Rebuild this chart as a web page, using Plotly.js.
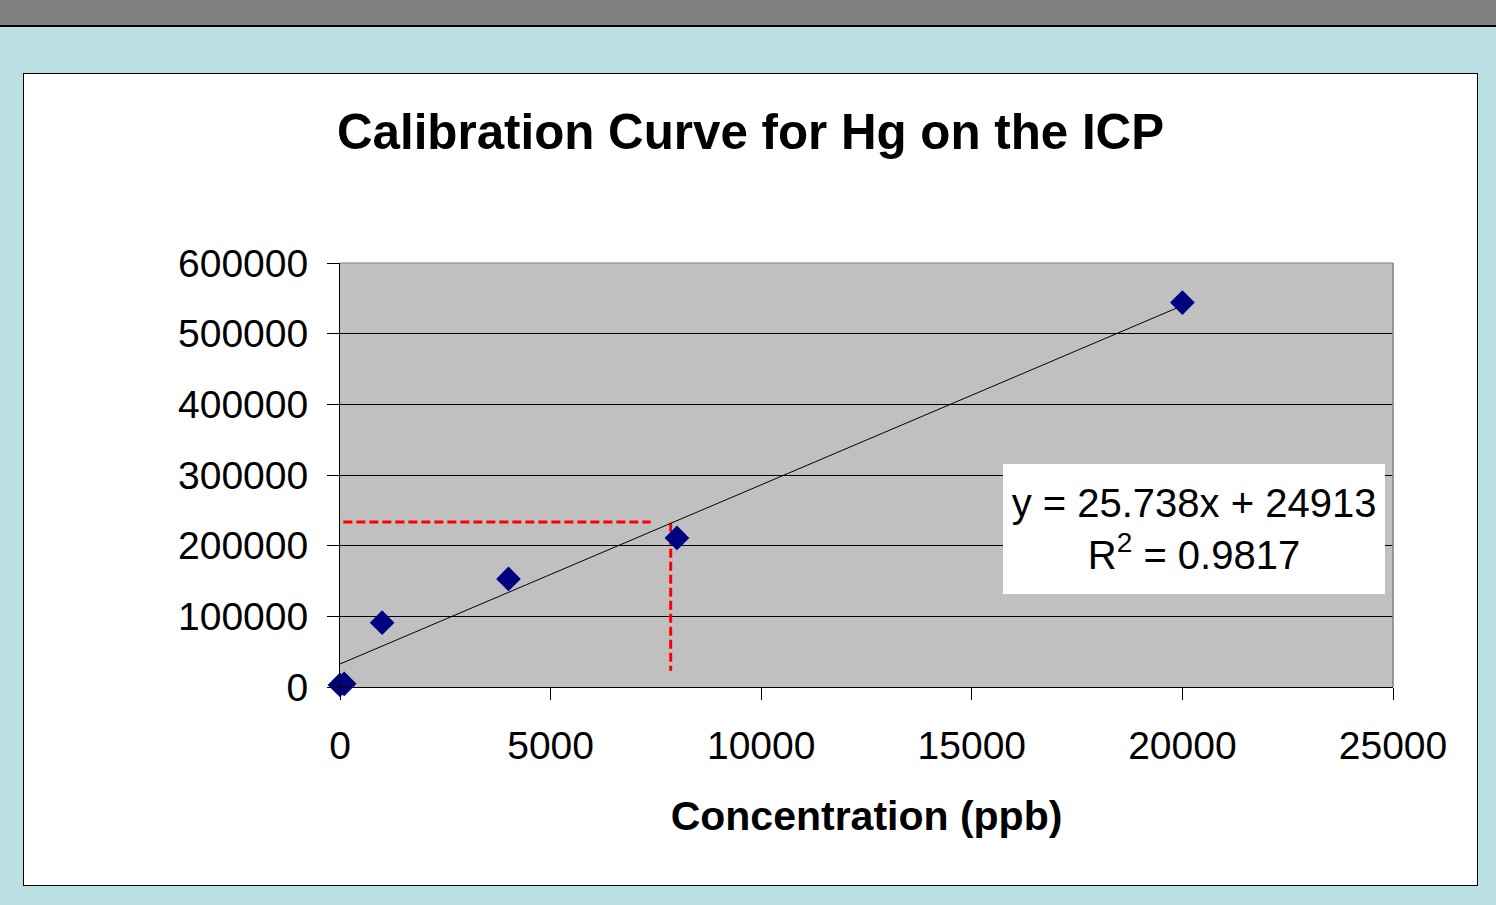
<!DOCTYPE html>
<html>
<head>
<meta charset="utf-8">
<script src="https://cdn.plot.ly/plotly-3.0.1.min.js"></script>
<style>
  html, body { margin:0; padding:0; width:1496px; height:905px; overflow:hidden; background:#BAE0E3; }
  #topband { position:absolute; left:0; top:0; width:1496px; height:25px; background:#808080; border-bottom:2px solid #000; }
  #box { position:absolute; left:23px; top:73px; width:1453px; height:811px; border:1px solid #000; background:#fff; }
  #chart { width:1453px; height:811px; }
</style>
</head>
<body>
<div id="topband"></div>
<div id="box"><div id="chart"></div></div>
<script>
// Calibration standards
const concentration = [0, 100, 1000, 4000, 8000, 20000];
const intensity     = [3000, 4500, 91000, 153000, 211000, 544000];

// Linear trendline as drawn
const trendX = [0, 20000];
const trendY = [32500, 539700];

// Red dashed guide lines
const guideHX = [80, 7376];
const guideHY = [233500, 233500];
const guideVX = [7851, 7851];
const guideVY = [232500, 23000];

const titleText = 'Calibration Curve for Hg on the ICP';
const xTitle = 'Concentration (ppb)';
const eqText = 'y = 25.738x + 24913<br>R<sup>2</sup> = 0.9817';

const FONT = 'Liberation Sans, Arial, sans-serif';

const traces = [
  { x: guideHX, y: guideHY, mode: 'lines', line: { color: '#FF0000', width: 3, dash: '9px,4px' }, hoverinfo: 'skip', showlegend: false },
  { x: guideVX, y: guideVY, mode: 'lines', line: { color: '#FF0000', width: 3, dash: '9px,4px' }, hoverinfo: 'skip', showlegend: false },
  { x: trendX, y: trendY, mode: 'lines', line: { color: '#000000', width: 1 }, showlegend: false },
  { x: concentration, y: intensity, mode: 'markers', cliponaxis: false, marker: { symbol: 'diamond', size: 19, color: '#000080' }, showlegend: false }
];

const layout = {
  width: 1453, height: 811,
  margin: { l: 316, r: 84, t: 189, b: 198 },
  paper_bgcolor: '#FFFFFF',
  plot_bgcolor: '#C0C0C0',
  font: { family: FONT, color: '#000' },
  showlegend: false,
  title: {
    text: '<b>' + titleText + '</b>',
    font: { family: FONT, size: 49.3, color: '#000' },
    x: 0.5, xref: 'container', xanchor: 'center',
    y: 1 - 58/811, yref: 'container', yanchor: 'middle'
  },
  xaxis: {
    range: [0, 25000], dtick: 5000, tick0: 0,
    tickformat: 'd',
    showgrid: false, zeroline: false,
    showline: true, linecolor: '#000', linewidth: 1,
    ticks: 'outside', ticklen: 12, tickcolor: '#000', tickwidth: 1,
    ticklabelstandoff: 12,
    tickfont: { family: FONT, size: 39, color: '#000' },
    title: { text: '<b>' + xTitle + '</b>', font: { family: FONT, size: 41, color: '#000' }, standoff: 35 }
  },
  yaxis: {
    range: [0, 600000], dtick: 100000, tick0: 0,
    tickformat: 'd',
    showgrid: true, gridcolor: '#000', gridwidth: 1,
    zeroline: false,
    showline: true, linecolor: '#000', linewidth: 1,
    ticks: 'outside', ticklen: 12, tickcolor: '#000', tickwidth: 1,
    ticklabelstandoff: 11,
    tickfont: { family: FONT, size: 39, color: '#000' }
  },
  shapes: [
    { type: 'line', xref: 'paper', yref: 'paper', x0: 0, x1: 1, y0: 1, y1: 1, line: { color: '#808080', width: 1 }, layer: 'above' },
    { type: 'line', xref: 'paper', yref: 'paper', x0: 1, x1: 1, y0: 0, y1: 1, line: { color: '#808080', width: 1.5 }, layer: 'above' }
  ],
  annotations: [
    {
      xref: 'paper', yref: 'paper', x: 0.811, y: 0.3726,
      xanchor: 'center', yanchor: 'middle',
      text: eqText, showarrow: false,
      width: 382, height: 130, align: 'center', valign: 'middle',
      bgcolor: '#FFFFFF', borderpad: 0, borderwidth: 0,
      font: { family: FONT, size: 40, color: '#000' }
    }
  ]
};

Plotly.newPlot('chart', traces, layout, { displayModeBar: false, staticPlot: true });
</script>
</body>
</html>
